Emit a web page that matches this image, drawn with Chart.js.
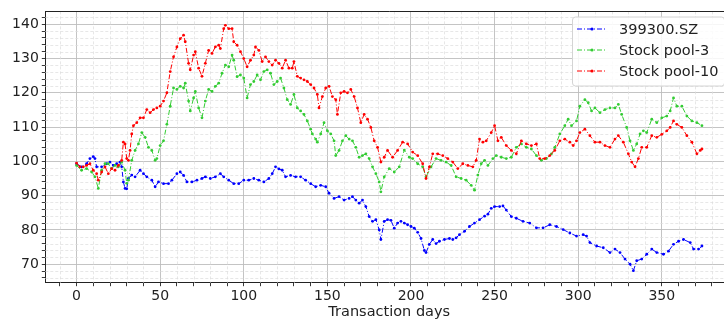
<!DOCTYPE html>
<html>
<head>
<meta charset="utf-8">
<script src="https://cdn.jsdelivr.net/npm/chart.js@4.4.1/dist/chart.umd.min.js"></script>
<style>
  html, body { margin: 0; padding: 0; background: #fff; overflow: hidden; }
  .wrap { width: 740px; height: 321px; }
</style>
</head>
<body>
<div class="wrap"><canvas id="chart"></canvas></div>
<script>
// --- data (day, value) ---
const seriesNames = ['399300.SZ', 'Stock pool-3', 'Stock pool-10'];

const indexDays = [0,3,6,8,10,11,12,15,18,20,22,24,26,27,28,29,30,31,33,35,38,40,42,45,47,49,52,55,57,60,62,64,66,69,72,75,77,80,83,86,88,91,94,97,100,103,106,109,112,115,117,119,121,123,125,128,131,134,137,140,143,146,149,151,154,157,160,163,165,167,169,171,173,175,177,179,181,182,184,186,188,190,192,194,196,198,200,202,204,206,208,209,211,213,215,217,220,223,225,227,229,232,235,238,241,244,246,248,250,253,255,257,260,263,267,271,275,279,283,287,291,295,299,303,305,307,311,315,319,322,325,328,331,333,335,338,341,344,347,351,354,357,360,363,367,369,372,374];
const indexVals = [99.3,98.4,99.3,100.8,101.4,100.8,98.4,98.4,99.3,99.8,98.8,99.3,99.8,98.4,94,92.1,92,95,96,95.5,97.4,96.4,95.5,94.5,92.6,94,93.5,93.5,94.5,96.4,96.9,95.9,94,94,94.5,95,95.5,95,95.5,96.4,95.5,94.5,93.5,93.5,94.5,94.5,95,94.5,94,95,96.4,98.4,97.8,97.4,95.5,95.9,95.5,95.5,94.5,93.5,92.6,93,92.6,90.7,89.2,89.7,88.7,89.2,89.7,88.7,87.8,88.7,86.8,83.9,82.5,83,80,77.2,82.5,83,82.8,80.5,82,82.5,82,81.5,81,80.5,79.3,77.5,74,73.4,75.8,77.2,76,76.7,77.2,77.5,77.2,77.7,78.6,79.6,81,82,83,84,84.6,86.3,86.8,86.8,87,85.8,83.9,83.4,82.5,82,80.6,80.6,81.5,81,80.1,79.1,78.2,78.6,78.2,76.3,75.3,74.8,73.4,74.4,73.4,71.5,70,68.1,71,71.5,72.9,74.4,73.4,72.9,73.8,75.8,76.7,77.2,76.3,74.4,74.4,75.3];

const pool3Days = [0,3,6,9,11,13,15,17,19,21,23,25,27,29,30,31,33,35,37,39,41,43,45,47,48,50,52,54,56,58,60,62,64,65,67,68,70,71,73,75,77,79,81,83,85,87,89,91,93,94,96,98,100,102,104,106,108,110,112,114,116,118,120,122,124,126,128,130,132,134,136,138,140,141,143,144,146,148,150,152,154,155,157,159,161,163,165,167,169,171,173,175,177,179,181,182,184,187,190,193,196,199,201,204,207,209,212,215,218,221,224,227,230,233,236,238,240,242,244,246,249,251,254,257,260,263,266,269,272,275,278,281,284,286,289,292,294,296,299,301,304,306,308,310,313,316,319,322,324,326,329,331,333,335,337,339,341,344,347,350,353,355,357,359,362,365,368,371,374];
const pool3Vals = [98.8,97.4,97.9,96.9,95.5,92.1,97.4,99.3,99.3,97.9,98.8,98.4,99.8,97.4,93.6,94.5,100.3,103.2,105.1,108.4,107,104.1,103.2,100.3,100.8,104.6,106,110.8,116.1,121.4,121,121.9,121.4,122.8,117.6,114.7,118.5,120.4,115.6,112.7,117.6,121,120.4,121.9,122.8,125.7,128.1,127.6,131,129.5,124.7,125.2,124.3,118.5,122.4,123.3,125.2,123.8,126.2,126.7,125.7,122.4,123.3,124.3,121.4,118,116.6,119.5,115.6,114.7,113.7,111.8,109.4,108,106.5,105.6,108,111.3,108.9,108,106,101.7,103.2,106,107.5,106.5,106,104.1,101.2,101.7,102.2,100.8,98.4,96.4,94,91.1,95.5,97.9,96.9,98.4,103.3,101.2,100.8,99.3,98.4,95.5,98.4,100.8,100.3,99.8,98.8,95.5,95,94.5,93,91.6,96,99.3,100.3,98.8,100.8,101.7,101.2,100.8,101.2,104.1,105.1,104.1,103.6,101.7,100.3,100.8,102.2,104.1,108,110.4,112.3,110.4,111.8,116.1,118,117.1,114.7,115.6,114.2,115.1,115.6,115.6,116.6,113.7,109.9,106,103.2,105.1,108,108.9,108.4,112.3,111.3,112.7,113.2,114.7,118.5,116.1,116.1,113.2,111.8,111.3,110.4];

const pool10Days = [0,2,4,6,8,10,12,13,15,17,19,21,23,25,27,28,29,30,31,32,33,34,36,38,40,42,44,46,48,50,52,54,56,58,60,62,64,65,67,68,70,71,73,75,77,79,81,83,85,86,88,89,91,93,94,96,98,100,102,104,106,107,109,111,113,115,117,119,121,123,125,127,129,130,132,134,136,138,140,142,144,145,147,149,151,153,155,156,158,160,162,164,166,168,170,172,174,176,178,180,182,184,186,189,192,195,198,201,204,207,209,211,213,216,219,222,225,228,231,234,237,239,241,243,245,248,250,252,254,257,260,263,266,269,272,275,277,280,283,286,289,292,295,297,299,301,304,307,310,313,316,319,322,324,327,330,332,334,336,338,341,344,347,350,353,355,357,359,362,365,368,371,373,374];
const pool10Vals = [99.5,98.4,98.4,98.8,99.3,97.4,96.4,94.5,96.9,98.4,96.4,97.9,97.4,98.8,100.3,105.6,105.1,100.8,100.3,103.2,108,110.4,111.3,112.7,112.7,115.1,114.2,115.1,115.6,116.1,117.6,120,126.2,130.5,133.4,135.8,136.8,134.9,128.6,126.7,131,132,127.2,124.8,128.6,132.4,131.5,133.4,133.9,132.9,138.7,139.7,138.7,138.7,134.9,133.9,132,130,127.6,129.5,131,133.4,132.4,129.1,130.5,129.1,128.1,129.5,128.6,127.2,129.5,127.2,127.2,129.1,124.8,124.3,123.8,123.3,122.4,121.4,119.5,115.6,118.9,121.4,121.9,118.9,118,113.7,120,120.4,120,121,118.9,115.6,111.3,113.7,112.3,109.9,106,104.1,99.8,101.2,103.2,101.2,103.2,105.6,105.1,102.7,101.7,99.3,95,98.4,102.2,102.2,101.7,100.8,99.8,97.9,99.3,98.8,98.4,100.3,106.5,105.6,106,108.4,110.4,106,107,104.6,103.2,102.2,106,105.1,104.6,105.1,100.8,100.8,101.7,103.2,106,106.5,105.6,104.6,106,108.4,109.4,107.5,105.6,105.6,104.6,104.1,106.5,107.5,105.6,102.2,99.8,98.4,100.8,104.1,104.1,107.5,107,107.9,108.9,109.9,111.8,110.8,109.9,107.5,105.6,102.2,103.2,103.6];

const xTickStep = 10, xLabelStep = 50;
const yTickStep = 2, yLabelStep = 10;

const colors = ['#0000ff', '#33cc33', '#ff0000'];
const FONT = 'DejaVu Sans';
const TEXT = '#222';

function pairs(days, vals) {
  return days.map((d, i) => ({ x: d, y: vals[i] }));
}

function makeTicks(scale, step) {
  const out = [];
  const start = Math.ceil(scale.min / step) * step;
  for (let v = start; v <= scale.max + 1e-9; v += step) out.push({ value: v });
  scale.ticks = out;
}

const isMajor = (v, step) => Math.abs(v / step - Math.round(v / step)) < 1e-6;

// minor dashed grid + top spine
const minorGrid = {
  id: 'minorGrid',
  beforeDatasetsDraw(chart) {
    const { ctx, chartArea: a, scales } = chart;
    ctx.save();
    ctx.strokeStyle = '#dcdcdc';
    ctx.lineWidth = 0.7;
    ctx.setLineDash([3, 2]);
    scales.x.ticks.forEach(t => {
      if (isMajor(t.value, xLabelStep)) return;
      const px = Math.round(scales.x.getPixelForValue(t.value)) + 0.5;
      ctx.beginPath(); ctx.moveTo(px, a.top); ctx.lineTo(px, a.bottom); ctx.stroke();
    });
    scales.y.ticks.forEach(t => {
      if (isMajor(t.value, yLabelStep)) return;
      const py = Math.round(scales.y.getPixelForValue(t.value)) + 0.5;
      ctx.beginPath(); ctx.moveTo(a.left, py); ctx.lineTo(a.right, py); ctx.stroke();
    });
    ctx.restore();
  },
  afterDraw(chart) {
    const { ctx, chartArea: a } = chart;
    ctx.save();
    ctx.strokeStyle = '#222';
    ctx.lineWidth = 1;
    ctx.beginPath();
    ctx.moveTo(a.left, Math.round(a.top) + 0.5);
    ctx.lineTo(a.right, Math.round(a.top) + 0.5);
    ctx.stroke();
    ctx.restore();
  }
};

// matplotlib-like legend box inside the plot, upper right
const boxLegend = {
  id: 'boxLegend',
  afterDraw(chart) {
    const { ctx } = chart;
    const x0 = 572, y0 = 16.5, w = 152, h = 69;
    ctx.save();
    ctx.setLineDash([]);
    ctx.fillStyle = 'rgba(255,255,255,0.85)';
    ctx.strokeStyle = '#d4d4d4';
    ctx.lineWidth = 1;
    ctx.beginPath();
    ctx.roundRect(x0 + 0.5, y0 + 0.5, w, h, 3);
    ctx.fill(); ctx.stroke();
    ctx.font = '14.5px "' + FONT + '"';
    ctx.textBaseline = 'middle';
    ctx.fillStyle = TEXT;
    chart.data.datasets.forEach((ds, i) => {
      const cy = 29 + i * 21;
      ctx.strokeStyle = ds.borderColor;
      ctx.lineWidth = 1;
      ctx.setLineDash([5, 2, 1, 2]);
      ctx.beginPath(); ctx.moveTo(577, cy); ctx.lineTo(607, cy); ctx.stroke();
      ctx.setLineDash([]);
      ctx.fillStyle = ds.borderColor;
      ctx.beginPath(); ctx.arc(592, cy, 1.6, 0, Math.PI * 2); ctx.fill();
      ctx.fillStyle = TEXT;
      ctx.fillText(ds.label, 619, cy + 1);
    });
    ctx.restore();
  }
};

const dataSets = [
  pairs(indexDays, indexVals),
  pairs(pool3Days, pool3Vals),
  pairs(pool10Days, pool10Vals)
];

new Chart(document.getElementById('chart'), {
  type: 'line',
  data: {
    datasets: dataSets.map((d, i) => ({
      label: seriesNames[i],
      data: d,
      borderColor: colors[i],
      backgroundColor: colors[i],
      borderWidth: 1,
      borderDash: [5, 2, 1, 2],
      pointRadius: 1.4,
      pointBorderWidth: 0,
      pointBackgroundColor: colors[i],
      tension: 0,
      order: 3 - i
    }))
  },
  options: {
    responsive: true,
    maintainAspectRatio: false,
    animation: false,
    layout: { padding: { left: 0, top: 8.3, right: 6.8, bottom: 0 } },
    scales: {
      x: {
        type: 'linear',
        min: -18.7,
        max: 392.7,
        afterBuildTicks: s => makeTicks(s, xTickStep),
        afterFit: s => { s.height = 38.3; },
        ticks: {
          autoSkip: false,
          maxRotation: 0,
          padding: 2,
          color: TEXT,
          font: { family: FONT, size: 14 },
          callback: v => isMajor(v, xLabelStep) ? v : ''
        },
        grid: {
          color: c => (c.tick && isMajor(c.tick.value, xLabelStep)) ? '#bdbdbd' : 'rgba(0,0,0,0)',
          lineWidth: 0.9,
          tickColor: '#222',
          tickLength: 3.5
        },
        border: { color: '#222', width: 1 },
        title: {
          display: true,
          text: 'Transaction days',
          color: TEXT,
          font: { family: FONT, size: 14.5 },
          padding: { top: 0, bottom: 0 }
        }
      },
      y: {
        min: 64.6,
        max: 143.75,
        afterBuildTicks: s => makeTicks(s, yTickStep),
        afterFit: s => { s.width = 45.3; },
        ticks: {
          autoSkip: false,
          padding: 3,
          color: TEXT,
          font: { family: FONT, size: 14 },
          callback: v => isMajor(v, yLabelStep) ? v : ''
        },
        grid: {
          color: c => (c.tick && isMajor(c.tick.value, yLabelStep)) ? '#bdbdbd' : 'rgba(0,0,0,0)',
          lineWidth: 0.9,
          tickColor: '#222',
          tickLength: 3.5
        },
        border: { color: '#222', width: 1 }
      }
    },
    plugins: {
      legend: { display: false },
      tooltip: { enabled: false }
    }
  },
  plugins: [minorGrid, boxLegend]
});
</script>
</body>
</html>
